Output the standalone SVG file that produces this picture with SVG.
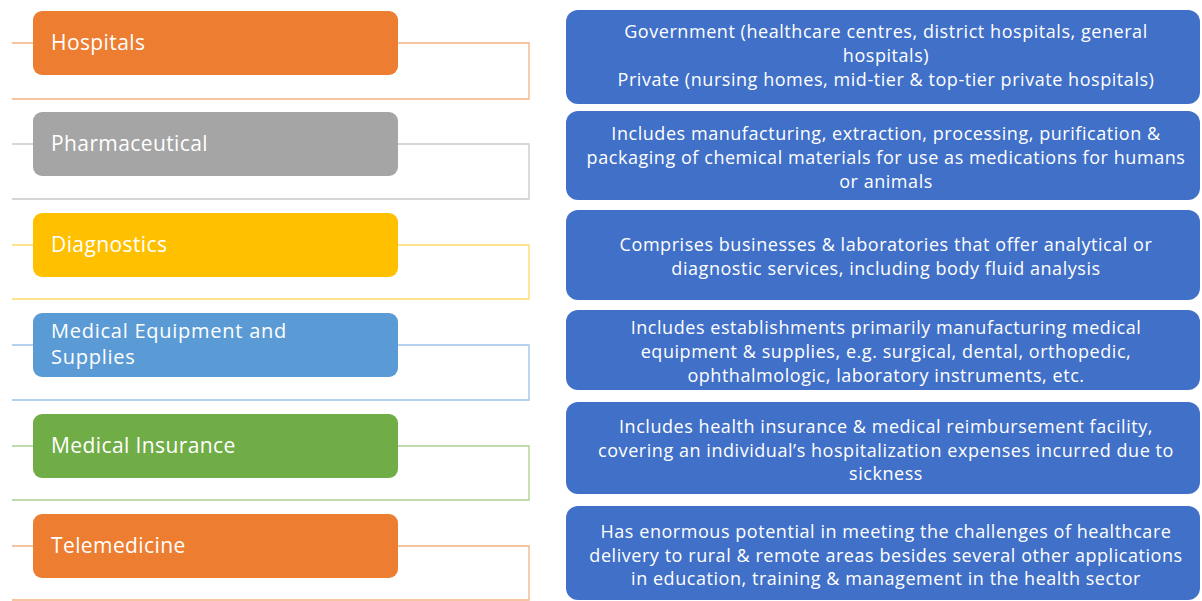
<svg xmlns="http://www.w3.org/2000/svg" width="1202" height="601" viewBox="0 0 1202 601">
<style>
.lbl{font-family:"Open Sans","Liberation Sans",sans-serif;font-size:21px;letter-spacing:0.4px;fill:#ffffff}
.lbl2{font-size:20px;letter-spacing:0.75px}
.desc{font-family:"Open Sans","Liberation Sans",sans-serif;font-size:18px;letter-spacing:0.55px;fill:#ffffff;text-anchor:middle}
.cat{stroke:none}
.dbox{fill:#4170C8}
.con{fill:none;stroke-width:1.3}
</style>
<rect width="1202" height="601" fill="#ffffff"/>
<g id="connectors">
<path class="con" stroke="#F4B183" d="M12 43H33M398 43H529V99H12"/>
<path class="con" stroke="#C9C9C9" d="M12 144H33M398 144H529V199H12"/>
<path class="con" stroke="#FFD966" d="M12 245H33M398 245H529V299H12"/>
<path class="con" stroke="#9DC3E6" d="M12 345H33M398 345H529V400H12"/>
<path class="con" stroke="#A9D18E" d="M12 446H33M398 446H529V500H12"/>
<path class="con" stroke="#F4B183" d="M12 546H33M398 546H529V600H12"/>
</g>
<g id="hospitals">
<rect class="cat" x="33" y="11" width="365" height="64" rx="9" fill="#ED7D31"/>
<text class="lbl" x="51" y="50">Hospitals</text>
</g>
<g id="pharmaceutical">
<rect class="cat" x="33" y="112" width="365" height="64" rx="9" fill="#A5A5A5"/>
<text class="lbl" x="51" y="151">Pharmaceutical</text>
</g>
<g id="diagnostics">
<rect class="cat" x="33" y="213" width="365" height="64" rx="9" fill="#FFC000"/>
<text class="lbl" x="51" y="252">Diagnostics</text>
</g>
<g id="medical-equipment">
<rect class="cat" x="33" y="313" width="365" height="64" rx="9" fill="#5B9BD5"/>
<text class="lbl lbl2" x="51" y="338">Medical Equipment and</text>
<text class="lbl lbl2" x="51" y="364">Supplies</text>
</g>
<g id="medical-insurance">
<rect class="cat" x="33" y="414" width="365" height="64" rx="9" fill="#70AD47"/>
<text class="lbl" x="51" y="453">Medical Insurance</text>
</g>
<g id="telemedicine">
<rect class="cat" x="33" y="514" width="365" height="64" rx="9" fill="#ED7D31"/>
<text class="lbl" x="51" y="553">Telemedicine</text>
</g>
<g id="desc-hospitals">
<rect class="dbox" x="566" y="10" width="634" height="94" rx="12"/>
<text class="desc" x="886" y="38">Government (healthcare centres, district hospitals, general</text>
<text class="desc" x="886" y="62">hospitals)</text>
<text class="desc" x="886" y="86">Private (nursing homes, mid-tier &amp; top-tier private hospitals)</text>
</g>
<g id="desc-pharmaceutical">
<rect class="dbox" x="566" y="111" width="634" height="89" rx="12"/>
<text class="desc" x="886" y="140">Includes manufacturing, extraction, processing, purification &amp;</text>
<text class="desc" x="886" y="164">packaging of chemical materials for use as medications for humans</text>
<text class="desc" x="886" y="188">or animals</text>
</g>
<g id="desc-diagnostics">
<rect class="dbox" x="566" y="210" width="634" height="90" rx="12"/>
<text class="desc" x="886" y="251">Comprises businesses &amp; laboratories that offer analytical or</text>
<text class="desc" x="886" y="275">diagnostic services, including body fluid analysis</text>
</g>
<g id="desc-medical-equipment">
<rect class="dbox" x="566" y="310" width="634" height="80" rx="12"/>
<text class="desc" x="886" y="334">Includes establishments primarily manufacturing medical</text>
<text class="desc" x="886" y="358">equipment &amp; supplies, e.g. surgical, dental, orthopedic,</text>
<text class="desc" x="886" y="382">ophthalmologic, laboratory instruments, etc.</text>
</g>
<g id="desc-medical-insurance">
<rect class="dbox" x="566" y="402" width="634" height="92" rx="12"/>
<text class="desc" x="886" y="433">Includes health insurance &amp; medical reimbursement facility,</text>
<text class="desc" x="886" y="457">covering an individual’s hospitalization expenses incurred due to</text>
<text class="desc" x="886" y="480">sickness</text>
</g>
<g id="desc-telemedicine">
<rect class="dbox" x="566" y="506" width="634" height="94" rx="12"/>
<text class="desc" x="886" y="538">Has enormous potential in meeting the challenges of healthcare</text>
<text class="desc" x="886" y="562">delivery to rural &amp; remote areas besides several other applications</text>
<text class="desc" x="886" y="585">in education, training &amp; management in the health sector</text>
</g>
</svg>
